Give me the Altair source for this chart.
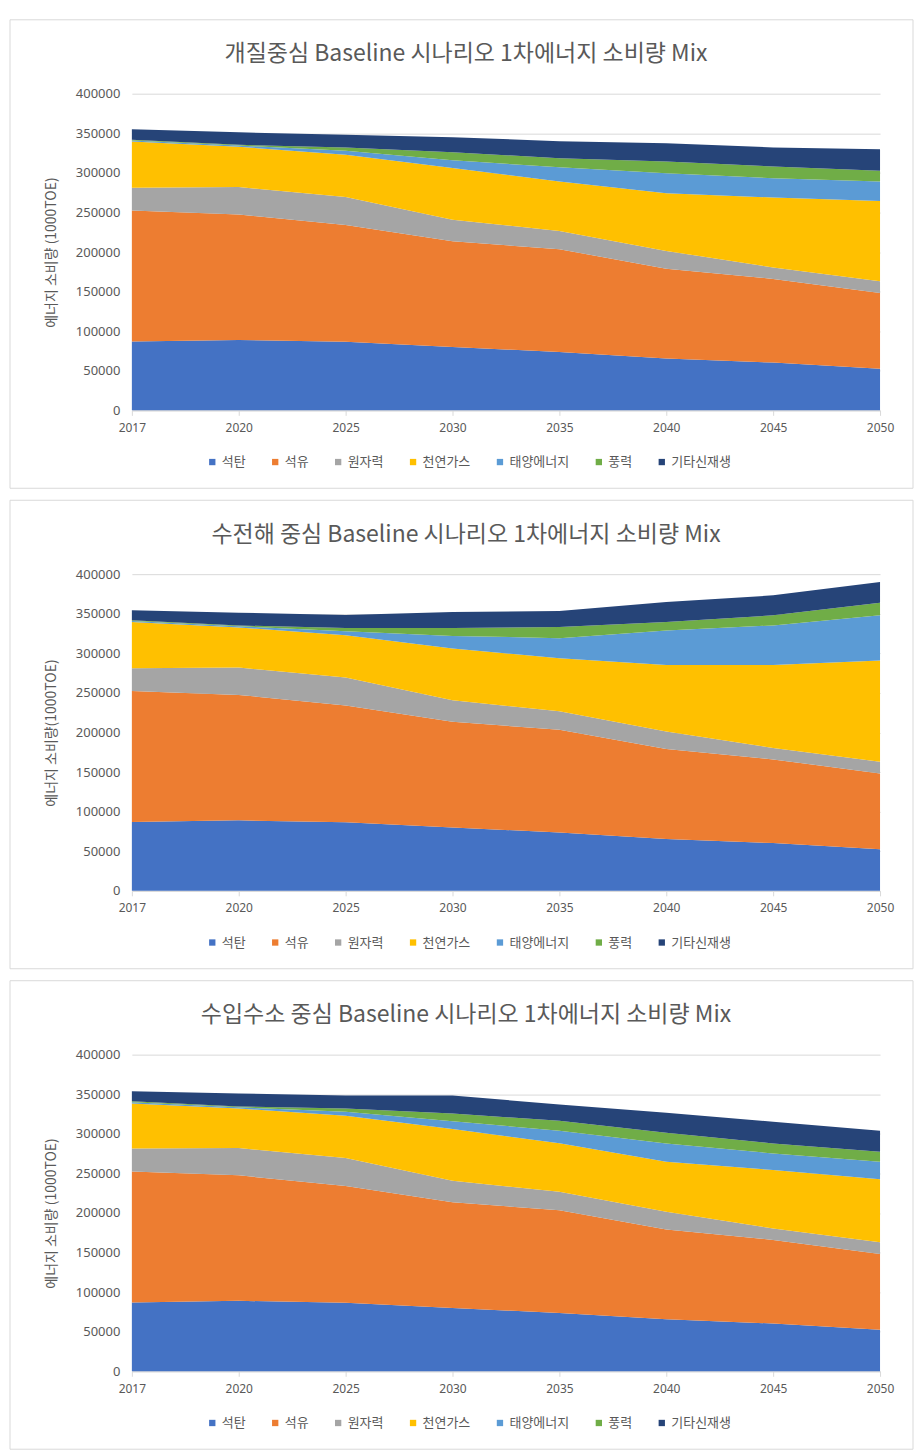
import altair as alt
import pandas as pd

years = ["2017", "2020", "2025", "2030", "2035", "2040", "2045", "2050"]
sources = ["석탄", "석유", "원자력", "천연가스", "태양에너지", "풍력", "기타신재생"]
colors = ["#4472C4", "#ED7D31", "#A5A5A5", "#FFC000", "#5B9BD5", "#70AD47", "#264478"]

# shared by all three scenarios (1000 TOE)
coal = [87000, 89000, 86700, 80000, 73700, 65600, 60300, 52400]
oil = [165500, 158500, 147300, 133500, 129800, 113400, 105700, 95800]
nuclear = [28800, 34500, 35500, 27300, 23200, 22400, 14400, 14800]

# scenario 1: 개질중심
s1_gas = [58400, 51000, 53300, 65200, 62300, 72800, 88400, 101600]
s1_solar = [1300, 1500, 5100, 10000, 18000, 25300, 24400, 24400]
s1_wind = [800, 1000, 4100, 10000, 11500, 14800, 14800, 13600]
s1_other = [13400, 15700, 16300, 19000, 21500, 23200, 24100, 27300]

# scenario 2: 수전해 중심
s2_gas = [58200, 50700, 53300, 65200, 67100, 84000, 105000, 127900]
s2_solar = [1500, 1500, 5100, 16000, 25400, 43500, 49900, 57100]
s2_wind = [800, 1000, 4100, 10000, 14000, 10600, 12700, 16000]
s2_other = [12700, 16100, 16300, 20300, 20300, 25400, 25300, 26200]

# scenario 3: 수입수소 중심
s3_gas = [57000, 50000, 53300, 65200, 61300, 63300, 73800, 79500]
s3_solar = [1700, 1500, 5100, 10000, 15800, 23100, 21000, 22200]
s3_wind = [1000, 1000, 4100, 9500, 12600, 13500, 12600, 12600]
s3_other = [12800, 16400, 16300, 23000, 20600, 25200, 27400, 26500]

titles = [
    "개질중심 Baseline 시나리오 1차에너지 소비량 Mix",
    "수전해 중심 Baseline 시나리오 1차에너지 소비량 Mix",
    "수입수소 중심 Baseline 시나리오 1차에너지 소비량 Mix",
]
ytitles = [
    "에너지 소비량 (1000TOE)",
    "에너지 소비량(1000TOE)",
    "에너지 소비량 (1000TOE)",
]
yticks = [0, 50000, 100000, 150000, 200000, 250000, 300000, 350000, 400000]

GRAY = "#595959"
LINE = "#d9d9d9"
KFONT = "Noto Sans CJK KR"


def panel(title, ytitle, series):
    rows = []
    for i, (name, vals) in enumerate(zip(sources, series)):
        for yr, v in zip(years, vals):
            rows.append({"year": yr, "source": name, "value": v, "k": i})
    df = pd.DataFrame(rows)
    area = alt.Chart(df).mark_area(interpolate="linear").encode(
        x=alt.X(
            "year:O",
            scale=alt.Scale(type="point", padding=0),
            title=None,
            axis=alt.Axis(
                labelAngle=0, labelColor=GRAY, labelFontSize=12, labelFont="Noto Sans",
                labelPadding=7, domainColor=LINE, tickColor=LINE, tickSize=5, grid=False,
            ),
        ),
        y=alt.Y(
            "value:Q",
            stack="zero",
            scale=alt.Scale(domain=[0, 400000], nice=False),
            title=ytitle,
            axis=alt.Axis(
                values=yticks, format="d", domain=False, ticks=False,
                gridColor=LINE, labelColor=GRAY, labelFontSize=13, labelFont="Noto Sans",
                labelPadding=12, titleColor=GRAY, titleFontSize=14, titleFont=KFONT,
                titleFontWeight="normal", titlePadding=17,
            ),
        ),
        color=alt.Color(
            "source:N",
            scale=alt.Scale(domain=sources, range=colors),
            legend=alt.Legend(
                title=None, orient="none", legendX=74, legendY=362,
                direction="horizontal", columns=7, symbolType="square",
                symbolSize=40, symbolStrokeWidth=0, labelFontSize=13,
                labelFont=KFONT, labelColor=GRAY, columnPadding=23, labelOffset=3,
            ),
        ),
        order=alt.Order("k:Q", sort="ascending"),
    )
    frame = alt.Chart(pd.DataFrame({"f": [0]})).mark_rect(
        fillOpacity=0, stroke=LINE, strokeWidth=1
    ).encode(
        x=alt.value(-122), x2=alt.value(782), y=alt.value(-74), y2=alt.value(395)
    )
    return alt.layer(area, frame).properties(
        width=749,
        height=317,
        title=alt.TitleParams(
            text=title, font=KFONT, fontSize=23, fontWeight="normal", color=GRAY,
            anchor="middle", frame="group", baseline="middle", offset=-58, dx=-40,
        ),
    )


p1 = panel(titles[0], ytitles[0], [coal, oil, nuclear, s1_gas, s1_solar, s1_wind, s1_other])
p2 = panel(titles[1], ytitles[1], [coal, oil, nuclear, s2_gas, s2_solar, s2_wind, s2_other])
p3 = panel(titles[2], ytitles[2], [coal, oil, nuclear, s3_gas, s3_solar, s3_wind, s3_other])

chart = (
    alt.vconcat(p1, p2, p3, spacing=10)
    .resolve_scale(color="independent")
    .resolve_legend(color="independent")
    .properties(padding={"top": 10, "left": 1, "right": 0, "bottom": 0})
    .configure_view(strokeWidth=0)
)

chart.save("out.html", embed_options={"renderer": "svg", "actions": False})
